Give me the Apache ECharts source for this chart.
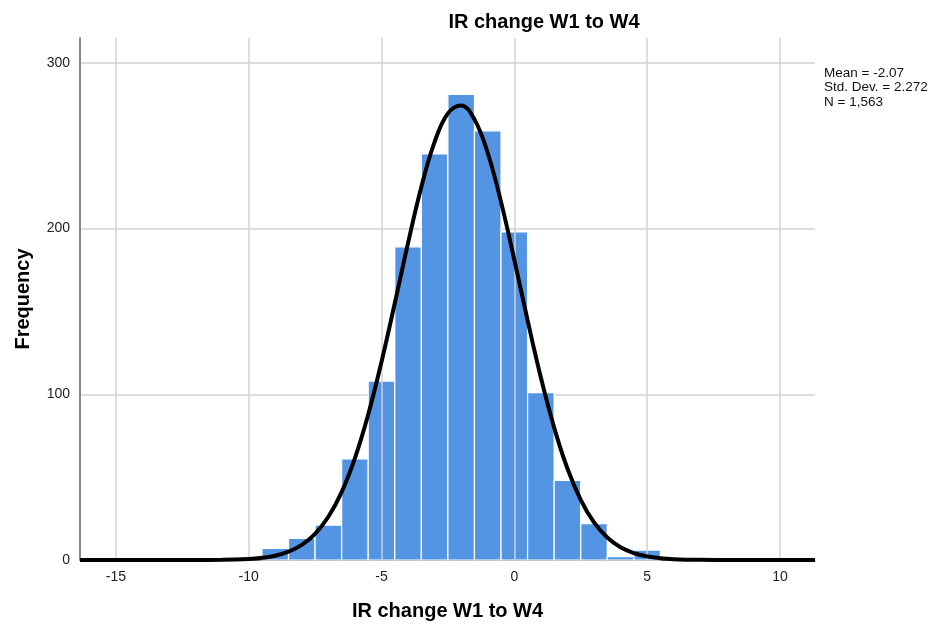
<!DOCTYPE html>
<html>
<head>
<meta charset="utf-8">
<script src="https://cdn.jsdelivr.net/npm/echarts@6/dist/echarts.min.js"></script>
<style>
  html, body { margin: 0; padding: 0; background: #fff; }
  #chart { width: 936px; height: 630px; }
</style>
</head>
<body>
<div id="chart"></div>
<script>
// Histogram of IR change W1 to W4 (bin width 1, bins centred on integers)
const binCenters = [-9, -8, -7, -6, -5, -4, -3, -2, -1, 0, 1, 2, 3, 4, 5];
const binCounts  = [7, 13, 21, 61, 108, 189, 245, 281, 259, 198, 101, 48, 22, 2, 6];
const binWidth = 1;

// Fitted normal curve, sampled along the x axis
const curveX = [-16.35, -14, -12, -11, -10, -9.5, -9, -8.5, -8, -7.5, -7, -6.5, -6, -5.5, -5, -4.5, -4, -3.5, -3, -2.5, -2,
                -1.5, -1, -0.5, 0, 0.5, 1, 1.5, 2, 2.5, 3, 3.5, 4, 4.5, 5, 5.5, 6, 7, 8, 9, 11.32];
const curveY = [0, 0, 0.02, 0.1, 0.6, 1.3, 2.6, 5.0, 9.1, 15.8, 26.1, 41.0, 61.5, 87.8, 119.5, 154.9, 191.3, 225.1, 252.3, 269.5, 274.3,
                265.9, 245.6, 216.1, 181.2, 144.7, 110.1, 79.9, 55.2, 36.3, 22.7, 13.6, 7.7, 4.2, 2.2, 1.1, 0.5, 0.1, 0.01, 0, 0];

const xTicks = [-15, -10, -5, 0, 5, 10];
const xMin = -16.35, xMax = 11.32;
const yMax = 315;

const statsLines = ['Mean = -2.07', 'Std. Dev. = 2.272', 'N = 1,563'];

const binData = binCenters.map((c, i) => [c - binWidth / 2, c + binWidth / 2, binCounts[i]]);
const curveData = curveX.map((x, i) => [x, curveY[i]]);

const chart = echarts.init(document.getElementById('chart'), null, { renderer: 'canvas' });

const FONT = '"Liberation Sans", Arial, sans-serif';

chart.setOption({
  animation: false,
  backgroundColor: '#ffffff',
  title: {
    text: 'IR change W1 to W4',
    left: 539,
    top: 7,
    textAlign: 'center',
    textStyle: { fontFamily: FONT, fontSize: 20, fontWeight: 'bold', color: '#000' }
  },
  grid: { left: 80, right: 121, top: 38, bottom: 70, containLabel: false, outerBoundsMode: 'none' },
  xAxis: {
    type: 'value',
    min: xMin,
    max: xMax,
    name: 'IR change W1 to W4',
    nameLocation: 'middle',
    nameGap: 41,
    nameTextStyle: { fontFamily: FONT, fontSize: 20, fontWeight: 'bold', color: '#000' },
    axisLine: { show: true, onZero: false, lineStyle: { color: '#888', width: 1 } },
    axisTick: { show: false },
    splitLine: { show: false },
    axisLabel: {
      customValues: xTicks,
      fontFamily: FONT, fontSize: 14, color: '#222', margin: 10
    }
  },
  yAxis: {
    type: 'value',
    min: 0,
    max: yMax,
    interval: 100,
    name: 'Frequency',
    nameLocation: 'middle',
    nameGap: 47,
    nameRotate: 90,
    nameTextStyle: { fontFamily: FONT, fontSize: 20, fontWeight: 'bold', color: '#000' },
    axisLine: { show: true, onZero: false, lineStyle: { color: '#888', width: 2 } },
    axisTick: { show: false },
    splitLine: { show: true, showMaxLine: false, lineStyle: { color: '#d2d2d2', width: 1.5 } },
    axisLabel: {
      fontFamily: FONT, fontSize: 14, color: '#222', margin: 10,
      formatter: v => (v > 300 ? '' : String(v))
    }
  },
  series: [
    {
      // vertical grid lines at the labelled x values
      type: 'line',
      data: [],
      silent: true,
      z: 1,
      markLine: {
        silent: true,
        symbol: ['none', 'none'],
        label: { show: false },
        lineStyle: { color: '#d2d2d2', width: 1.5, type: 'solid' },
        data: xTicks.map(v => ({ xAxis: v }))
      }
    },
    {
      type: 'custom',
      z: 3,
      data: binData,
      encode: { x: [0, 1], y: 2 },
      renderItem: function (params, api) {
        const p0 = api.coord([api.value(0), api.value(2)]);
        const p1 = api.coord([api.value(1), 0]);
        return {
          type: 'rect',
          shape: { x: p0[0], y: p0[1], width: p1[0] - p0[0], height: p1[1] - p0[1] },
          style: { fill: '#5395e3', stroke: '#ffffff', lineWidth: 1.2 }
        };
      }
    },
    {
      type: 'line',
      z: 5,
      data: curveData,
      smooth: 0.4,
      showSymbol: false,
      lineStyle: { color: '#000', width: 4 },
      silent: true
    }
  ],
  graphic: [
    {
      type: 'text',
      left: 824,
      top: 66,
      style: {
        text: statsLines.join('\n'),
        fontFamily: FONT,
        fontSize: 13.5,
        lineHeight: 14.5,
        fill: '#111'
      }
    }
  ]
});
</script>
</body>
</html>
